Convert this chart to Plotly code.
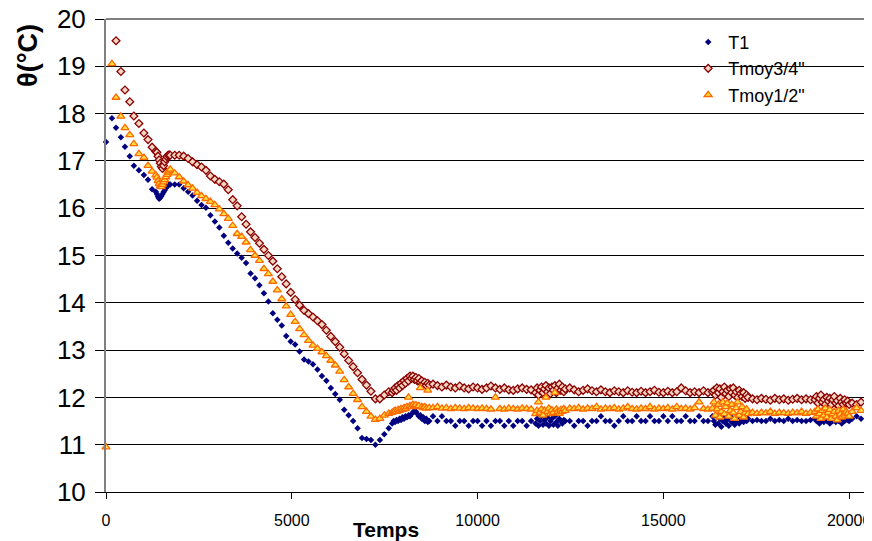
import plotly.graph_objects as go

# sampling times (s)
TIME = [
    0, 160, 270, 400, 510, 640, 750, 885, 1020, 1130, 1240, 1340,
    1370, 1400, 1430, 1460, 1490, 1520, 1550, 1580, 1610, 1640, 1670, 1700, 1730,
    1850, 1970, 2090, 2210, 2330, 2450, 2570, 2690, 2810, 2930, 3050, 3170, 3290,
    3410, 3530, 3650, 3770, 3890, 4010, 4130, 4250, 4370, 4490, 4610, 4730, 4850,
    4970, 5090, 5210, 5330, 5450, 5570, 5690, 5810, 5930, 6050, 6170, 6290, 6410,
    6530, 6650, 6770, 6890, 7010, 7130,
    7250, 7370, 7490, 7610,
    7700, 7740, 7780, 7820, 7860, 7900, 7940, 7980, 8020, 8060, 8100, 8140, 8180,
    8220, 8260, 8300, 8340, 8380, 8420, 8460, 8500, 8540, 8580, 8620, 8660, 8700,
    8800, 8920, 9040, 9160, 9280, 9400, 9520, 9640, 9760, 9880, 10000, 10120,
    10240, 10360, 10480, 10600, 10720, 10840, 10960, 11080, 11200, 11320, 11440,
    11560, 11600, 11640, 11680, 11720, 11760, 11800, 11840, 11880, 11920, 11960,
    12000, 12040, 12080, 12120, 12160, 12200, 12240, 12280, 12320, 12360,
    12480, 12600, 12720, 12840, 12960, 13080, 13200, 13320, 13440, 13560, 13680,
    13800, 13920, 14040, 14160, 14280, 14400, 14520, 14640, 14760, 14880, 15000,
    15120, 15240, 15360, 15480, 15600, 15720, 15840, 15960, 16080, 16200, 16320,
    16360, 16400, 16440, 16480, 16520, 16560, 16600, 16640, 16680, 16720, 16760,
    16800, 16840, 16880, 16920, 16960, 17000, 17040, 17080, 17120, 17160, 17200,
    17240, 17280,
    17400, 17520, 17640, 17760, 17880, 18000, 18120, 18240, 18360, 18480, 18600,
    18720, 18840, 18960,
    19080, 19120, 19160, 19200, 19240, 19280, 19320, 19360, 19400, 19440, 19480,
    19520, 19560, 19600, 19640, 19680, 19720, 19760, 19800, 19840, 19880, 19920,
    19960, 20000,
    20080, 20200, 20320,
]

T1 = [
    17.4, 17.9, 17.7, 17.5, 17.3, 17.1, 16.9, 16.8, 16.7, 16.6, 16.4, 16.35,
    16.3, 16.24, 16.2, 16.22, 16.26, 16.3, 16.34, 16.38, 16.42, 16.46, 16.48, 16.5, 16.5,
    16.5, 16.5, 16.42, 16.35, 16.27, 16.16, 16.07, 16.01, 15.85, 15.72, 15.59, 15.42, 15.27,
    15.15, 15.04, 14.95, 14.84, 14.62, 14.52, 14.37, 14.2, 14.03, 13.78, 13.64, 13.52, 13.3,
    13.18, 13.12, 12.97, 12.8, 12.76, 12.7, 12.59, 12.45, 12.35, 12.2, 12.07, 11.95, 11.74,
    11.62, 11.5, 11.35, 11.14, 11.12, 11.1,
    11.0, 11.1, 11.22, 11.35,
    11.45, 11.5, 11.48, 11.52, 11.5, 11.55, 11.52, 11.58, 11.55, 11.6, 11.58, 11.62, 11.6,
    11.65, 11.68, 11.72, 11.7, 11.65, 11.6, 11.62, 11.55, 11.58, 11.5, 11.55, 11.48, 11.5,
    11.6, 11.5, 11.6, 11.5, 11.5, 11.4, 11.5, 11.5, 11.4, 11.5, 11.5, 11.4,
    11.5, 11.4, 11.5, 11.5, 11.4, 11.5, 11.4, 11.5, 11.5, 11.4, 11.5,
    11.45, 11.55, 11.4, 11.5, 11.6, 11.42, 11.52, 11.45, 11.58, 11.4, 11.5,
    11.55, 11.42, 11.6, 11.48, 11.4, 11.55, 11.5, 11.45, 11.52, 11.5,
    11.5, 11.4, 11.5, 11.5, 11.4, 11.5, 11.5, 11.6, 11.5, 11.5, 11.4,
    11.5, 11.6, 11.5, 11.5, 11.6, 11.5, 11.5, 11.6, 11.5, 11.5, 11.6,
    11.5, 11.6, 11.5, 11.5, 11.6, 11.5, 11.5, 11.6, 11.5, 11.5, 11.6,
    11.5, 11.42, 11.6, 11.45, 11.55, 11.38, 11.5, 11.58, 11.45, 11.52, 11.4,
    11.6, 11.48, 11.55, 11.42, 11.5, 11.58, 11.45, 11.5, 11.55, 11.48, 11.52,
    11.5, 11.55,
    11.5, 11.52, 11.5, 11.5, 11.55, 11.5, 11.52, 11.5, 11.55, 11.5, 11.52,
    11.5, 11.5, 11.52,
    11.55, 11.5, 11.58, 11.45, 11.52, 11.6, 11.48, 11.55, 11.5, 11.58, 11.45,
    11.52, 11.5, 11.55, 11.48, 11.6, 11.5, 11.52, 11.45, 11.55, 11.5, 11.58,
    11.52, 11.5,
    11.55, 11.6, 11.55,
]

TMOY34 = [
    None, None, 19.54, 18.89, 18.5, 18.25, 17.95, 17.79, 17.59, 17.45, 17.29, 17.2,
    17.18, 17.1, 17.02, 16.95, 16.88, 16.84, 16.9, 16.98, 17.04, 17.09, 17.12, 17.13, 17.12,
    17.12, 17.12, 17.1, 17.05, 16.98, 16.92, 16.87, 16.8, 16.68, 16.61, 16.56, 16.51, 16.39,
    16.18, 16.05, 15.82, 15.66, 15.5, 15.38, 15.26, 15.13, 15.0, 14.88, 14.72, 14.55, 14.4,
    14.22, 14.07, 13.95, 13.84, 13.77, 13.7, 13.62, 13.54, 13.42, 13.29, 13.18, 13.06, 12.92,
    12.78, 12.65, 12.52, 12.38, 12.26, 12.13,
    11.97, 11.97, 12.05, 12.12,
    12.1, 12.15, 12.2, 12.15, 12.25, 12.2, 12.3, 12.25, 12.35, 12.3, 12.4, 12.35, 12.45,
    12.4, 12.45, 12.38, 12.42, 12.35, 12.4, 12.32, 12.35, 12.28, 12.32, 12.25, 12.3, 12.26,
    12.28, 12.25, 12.22, 12.26, 12.22, 12.2, 12.24, 12.2, 12.18, 12.22, 12.2, 12.17,
    12.2, 12.24, 12.2, 12.17, 12.2, 12.16, 12.15, 12.18, 12.2, 12.17, 12.16,
    12.1, 12.2, 12.05, 12.15, 12.22, 12.1, 12.18, 12.25, 12.12, 12.2, 12.08,
    12.22, 12.15, 12.25, 12.1, 12.2, 12.28, 12.15, 12.22, 12.12, 12.18,
    12.2, 12.16, 12.12, 12.15, 12.18, 12.14, 12.12, 12.16, 12.12, 12.1, 12.14,
    12.12, 12.1, 12.14, 12.11, 12.1, 12.13, 12.1, 12.12, 12.15, 12.11, 12.1,
    12.13, 12.1, 12.12, 12.2, 12.14, 12.1, 12.12, 12.1, 12.14, 12.1, 12.12,
    12.15, 12.05, 12.2, 12.1, 12.18, 12.0, 12.12, 12.22, 12.08, 12.15, 12.02,
    12.18, 12.1, 12.2, 12.05, 12.12, 12.0, 12.15, 12.08, 12.02, 12.1, 11.98,
    12.05, 12.0,
    11.97, 11.95, 11.98, 11.96, 11.94, 11.98, 11.95, 11.97, 11.94, 11.96, 11.98,
    11.95, 11.97, 11.95,
    11.95, 12.02, 11.88, 11.98, 12.05, 11.9, 11.96, 11.85, 12.0, 11.92, 11.98,
    11.85, 11.95, 12.02, 11.88, 11.93, 11.82, 11.98, 11.9, 11.85, 11.95, 11.88,
    11.92, 11.85,
    11.88, 11.85, 11.9,
]

TMOY12 = [
    10.95, 19.05, 18.34, 17.94, 17.7, 17.55, 17.36, 17.15, 17.07, 16.9, 16.78, 16.7,
    16.65, 16.58, 16.52, 16.47, 16.45, 16.5, 16.55, 16.6, 16.66, 16.71, 16.76, 16.8, 16.82,
    16.74, 16.66, 16.57, 16.49, 16.42, 16.33, 16.26, 16.2, 16.14, 16.07, 15.98, 15.88, 15.78,
    15.63, 15.46, 15.4, 15.28, 15.12, 15.0, 14.89, 14.72, 14.61, 14.45, 14.27, 14.08, 13.93,
    13.75, 13.6, 13.45, 13.32, 13.2, 13.1, 13.03, 12.96, 12.88, 12.78, 12.68, 12.55, 12.37,
    12.22, 12.08, 11.95, 11.8, 11.7, 11.6,
    11.53, 11.55, 11.62, 11.66,
    11.68, 11.7, 11.72, 11.7, 11.74, 11.72, 11.76, 11.74, 11.78, 11.76, 11.8, 12.0, 11.82,
    11.8, 11.85, 11.82, 11.84, 11.8, 11.82, 12.2, 11.8, 11.78, 11.8, 11.77, 12.15, 11.78,
    11.78, 11.8, 11.77, 11.78, 11.76, 11.78, 11.77, 11.76, 11.78, 11.77, 11.76, 11.77,
    11.76, 11.75, 12.0, 11.76, 11.75, 11.77, 11.76, 11.75, 11.77, 11.76, 11.75,
    11.65, 11.72, 11.9, 11.68, 11.75, 11.62, 11.72, 12.0, 11.7, 11.77, 11.65,
    11.73, 11.68, 12.1, 11.75, 11.7, 11.66, 11.74, 11.7, 11.76, 11.72,
    11.77, 11.76, 11.78, 11.75, 11.77, 11.76, 11.8, 11.75, 11.77, 11.76, 11.78,
    11.75, 11.77, 11.8, 11.76, 11.75, 11.77, 11.76, 11.8, 11.75, 11.77, 11.76,
    11.78, 11.75, 11.8, 11.76, 11.77, 11.75, 11.78, 11.9, 11.76, 11.75, 11.77,
    11.9, 11.62, 11.75, 11.85, 11.58, 11.7, 11.9, 11.65, 11.8, 11.88, 11.6,
    11.72, 11.85, 11.68, 11.55, 11.78, 11.9, 11.62, 11.7, 11.8, 11.58, 11.68,
    11.75, 11.65,
    11.68, 11.66, 11.68, 11.67, 11.7, 11.66, 11.68, 11.67, 11.66, 11.68, 11.67,
    11.7, 11.66, 11.68,
    11.7, 11.6, 11.75, 11.65, 11.55, 11.72, 11.62, 11.77, 11.58, 11.68, 11.74,
    11.55, 11.65, 11.7, 11.6, 11.52, 11.72, 11.64, 11.58, 11.75, 11.62, 11.7,
    11.66, 11.6,
    11.7, 11.78, 11.72,
]

X_TICKS = [0, 5000, 10000, 15000, 20000]

assert len(TIME) == len(T1) == len(TMOY34) == len(TMOY12)

FONT = "Liberation Sans, Arial, sans-serif"

series = [
    ("T1", T1, dict(symbol="diamond", size=5, color="#000080",
                    line=dict(width=0))),
    ('Tmoy3/4"', TMOY34, dict(symbol="diamond", size=6, color="#F3D5C3",
                              line=dict(color="#8B0000", width=1.3))),
    ('Tmoy1/2"', TMOY12, dict(symbol="triangle-up", size=7, color="#FFE040",
                              line=dict(color="#FF6A00", width=1.3))),
]

fig = go.Figure()
for name, vals, marker in series:
    fig.add_trace(go.Scatter(x=TIME, y=vals, mode="markers", name=name,
                             marker=marker, cliponaxis=False))

# the page body adds an 8px offset, so the figure is 8px smaller each way
fig.update_layout(
    width=864, height=533,
    margin=dict(l=98, r=5, t=11, b=49),
    paper_bgcolor="white", plot_bgcolor="white",
    font=dict(family=FONT, color="black"),
    showlegend=True,
    legend=dict(x=0.765, y=0.99, xanchor="left", yanchor="top",
                bgcolor="rgba(0,0,0,0)", font=dict(size=18, family=FONT),
                tracegroupgap=0),
    shapes=[
        # white legend area that hides the gridlines
        dict(type="rect", xref="paper", yref="paper", x0=0.7346, x1=0.975,
             y0=0.755, y1=0.996, fillcolor="white", line=dict(width=0),
             layer="between"),
        # top border
        dict(type="line", xref="paper", yref="paper", x0=0, x1=1, y0=1, y1=1,
             line=dict(color="#808080", width=2)),
    ],
    annotations=[
        dict(text="<b>Temps</b>", xref="paper", yref="paper", x=0.368, y=-0.08,
             xanchor="center", yanchor="middle", showarrow=False,
             font=dict(size=21, family=FONT)),
        dict(text="<b>θ(°C)</b>", xref="paper", yref="paper", x=-0.1025, y=0.924,
             xanchor="center", yanchor="middle", showarrow=False, textangle=-90,
             font=dict(size=27, family=FONT)),
    ],
)

fig.update_xaxes(
    range=[0, 20480], tickvals=X_TICKS, ticktext=[str(v) for v in X_TICKS],
    showgrid=False, zeroline=False, automargin=False,
    showline=True, linecolor="black", linewidth=1,
    ticks="outside", ticklen=6, tickcolor="black",
    ticklabelstandoff=8, ticklabeloverflow="allow",
    tickfont=dict(size=16, family=FONT),
)
fig.update_yaxes(
    range=[10, 20], dtick=1, automargin=False,
    showgrid=True, gridcolor="black", gridwidth=1, zeroline=False,
    showline=True, linecolor="#808080", linewidth=2, mirror=True,
    ticks="outside", ticklen=9, tickcolor="black",
    ticklabelstandoff=4, ticklabeloverflow="allow",
    tickfont=dict(size=26, family=FONT),
)

fig.write_html("out.html")
